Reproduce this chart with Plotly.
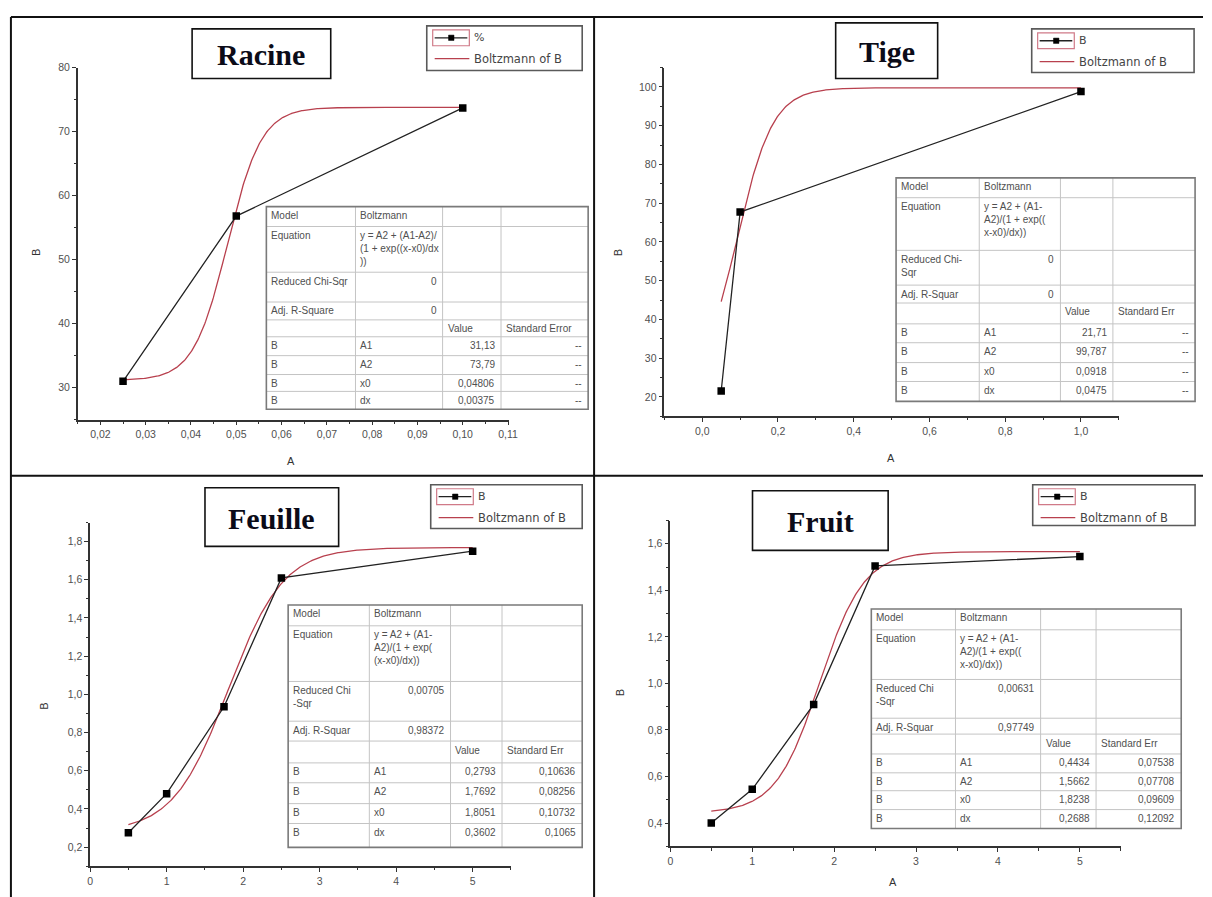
import numpy as np
import plotly.graph_objects as go

W, H = 1212, 897

# ---------------- data ----------------
panel_titles = ["Racine", "Tige", "Feuille", "Fruit"]
series_names = ["%", "B", "B", "B"]
fit_name = "Boltzmann of B"

racine_a = [0.025, 0.05, 0.10]
racine_b = [31.0, 56.8, 73.7]
tige_a = [0.05, 0.1, 1.0]
tige_b = [21.5, 67.7, 98.8]
feuille_a = [0.5, 1.0, 1.75, 2.5, 5.0]
feuille_b = [0.275, 0.48, 0.935, 1.61, 1.75]
fruit_a = [0.5, 1.0, 1.75, 2.5, 5.0]
fruit_b = [0.40, 0.545, 0.91, 1.505, 1.545]

# Boltzmann parameters [A1, A2, x0, dx]
racine_fit = [31.13, 73.79, 0.04806, 0.00375]
tige_fit = [21.71, 99.787, 0.0918, 0.0475]
feuille_fit = [0.2793, 1.7692, 1.8051, 0.3602]
fruit_fit = [0.4434, 1.5662, 1.8238, 0.2688]

# standard errors (None = not available)
racine_err = [None, None, None, None]
tige_err = [None, None, None, None]
feuille_err = [0.10636, 0.08256, 0.10732, 0.1065]
fruit_err = [0.07538, 0.07708, 0.09609, 0.12092]

# [reduced chi-sqr, adj. R-square]
racine_stats = [0, 0]
tige_stats = [0, 0]
feuille_stats = [0.00705, 0.98372]
fruit_stats = [0.00631, 0.97749]

param_names = ["A1", "A2", "x0", "dx"]

racine_labels = ["Model", "Equation", "Reduced Chi-Sqr", "Adj. R-Square", "Standard Error",
                 "y = A2 + (A1-A2)/<br>(1 + exp((x-x0)/dx<br>))"]
tige_labels = ["Model", "Equation", "Reduced Chi-<br>Sqr", "Adj. R-Squar", "Standard Err",
               "y = A2 + (A1-<br>A2)/(1 + exp((<br>x-x0)/dx))"]
feuille_labels = ["Model", "Equation", "Reduced Chi<br>-Sqr", "Adj. R-Squar", "Standard Err",
                  "y = A2 + (A1-<br>A2)/(1 + exp(<br>(x-x0)/dx))"]
fruit_labels = ["Model", "Equation", "Reduced Chi<br>-Sqr", "Adj. R-Squar", "Standard Err",
                "y = A2 + (A1-<br>A2)/(1 + exp((<br>x-x0)/dx))"]

racine_xticks = [0.02, 0.03, 0.04, 0.05, 0.06, 0.07, 0.08, 0.09, 0.10, 0.11]
racine_yticks = [30, 40, 50, 60, 70, 80]
tige_xticks = [0.0, 0.2, 0.4, 0.6, 0.8, 1.0]
tige_yticks = [20, 30, 40, 50, 60, 70, 80, 90, 100]
feuille_xticks = [0, 1, 2, 3, 4, 5]
feuille_yticks = [0.2, 0.4, 0.6, 0.8, 1.0, 1.2, 1.4, 1.6, 1.8]
fruit_xticks = [0, 1, 2, 3, 4, 5]
fruit_yticks = [0.4, 0.6, 0.8, 1.0, 1.2, 1.4, 1.6]

# ---------------- layout geometry (pixels) ----------------
panels = [
    dict(a=racine_a, b=racine_b, fit=racine_fit, err=racine_err, stats=racine_stats,
         labels=racine_labels, xt=racine_xticks, yt=racine_yticks, xf=".2f", yf="d",
         dom=(75.5, 511, 62, 416.5), xr=(0.015, 0.1102), yr=(25, 80),
         xminor=(0.015, 0.005), yminor=(25, 5),
         tbox=(191, 23, 331, 73), lbox=(428, 20, 585, 65),
         cols=[266, 356, 444, 503, 591], rows=[202, 222, 268, 298, 316, 333, 352, 371, 388, 406],
         btitle=(34, 248), atitle=(291, 458)),
    dict(a=tige_a, b=tige_b, fit=tige_fit, err=tige_err, stats=tige_stats,
         labels=tige_labels, xt=tige_xticks, yt=tige_yticks, xf=".1f", yf="d",
         dom=(668, 1127, 62, 413), xr=(-0.1, 1.1), yr=(15, 105),
         xminor=(-0.1, 0.1), yminor=(15, 5),
         tbox=(841, 17, 944, 73), lbox=(1039, 23, 1203, 67),
         cols=[902, 986, 1068, 1121, 1204], rows=[173, 193, 246, 281, 299, 320, 339, 359, 378, 398],
         btitle=(621, 248), atitle=(897, 455)),
    dict(a=feuille_a, b=feuille_b, fit=feuille_fit, err=feuille_err, stats=feuille_stats,
         labels=feuille_labels, xt=feuille_xticks, yt=feuille_yticks, xf="d", yf=".1f",
         dom=(88, 513, 520, 866), xr=(0, 5.5), yr=(0.1, 1.9),
         xminor=(0, 0.5), yminor=(0.1, 0.1),
         tbox=(204, 485, 339, 544), lbox=(432, 482, 585, 526),
         cols=[288, 370, 452, 504, 585], rows=[603, 624, 680, 720, 740, 762, 782, 803, 823, 847],
         btitle=(42, 705), atitle=None),
    dict(a=fruit_a, b=fruit_b, fit=fruit_fit, err=fruit_err, stats=fruit_stats,
         labels=fruit_labels, xt=fruit_xticks, yt=fruit_yticks, xf="d", yf=".1f",
         dom=(674, 1129, 518, 846), xr=(0, 5.5), yr=(0.3, 1.7),
         xminor=(0, 0.5), yminor=(0.3, 0.1),
         tbox=(757, 488, 894, 548), lbox=(1040, 482, 1204, 523),
         cols=[877, 962, 1048, 1104, 1190], rows=[607, 628, 678, 717, 733, 753, 772, 790, 809, 828],
         btitle=(624, 691), atitle=(899, 882)),
]


def fx(x):
    return x / W


def fy(y):
    return 1 - y / H


def num(v):
    return str(v).replace(".", ",")


def boltzmann(x, a1, a2, x0, dx):
    return a2 + (a1 - a2) / (1 + np.exp((x - x0) / dx))


def label(x, y, text, size, color, family, xanchor="center", yanchor="middle", **kw):
    return dict(x=fx(x), y=fy(y), xref="paper", yref="paper", text=text, showarrow=False,
                xanchor=xanchor, yanchor=yanchor, font=dict(family=family, size=size, color=color),
                **kw)


RED = "#b8404e"
INK = "#222222"
SANS = "Liberation Sans"

fig = go.Figure()
shapes = []
annotations = []
layout_axes = {}

for i, p in enumerate(panels):
    n = "" if i == 0 else str(i + 1)
    xa, ya = "x" + n, "y" + n
    x0d, x1d, ytop, ybot = p["dom"]

    a1, a2, c0, dx = p["fit"]
    xs = np.linspace(p["a"][0], p["a"][-1], 400)
    fig.add_trace(go.Scatter(x=xs, y=boltzmann(xs, a1, a2, c0, dx), mode="lines",
                             line=dict(color=RED, width=1.3), xaxis=xa, yaxis=ya,
                             showlegend=False, hoverinfo="skip"))
    fig.add_trace(go.Scatter(x=p["a"], y=p["b"], mode="lines+markers",
                             line=dict(color=INK, width=1.3),
                             marker=dict(symbol="square", size=7.5, color="#000000"),
                             xaxis=xa, yaxis=ya, showlegend=False))

    axis_common = dict(showline=True, linecolor="#333333", linewidth=1.5, ticks="outside",
                       ticklen=4, tickwidth=1, tickcolor="#333333", showgrid=False,
                       zeroline=False, tickfont=dict(family=SANS, size=10.5, color="#505050"),
                       tickmode="array")
    layout_axes["xaxis" + n] = dict(axis_common, domain=[fx(x0d), fx(x1d)], range=list(p["xr"]),
                                     tickvals=p["xt"], tickformat=p["xf"], anchor=ya,
                                     minor=dict(ticks="outside", ticklen=2.5, tickcolor="#333333",
                                                tick0=p["xminor"][0], dtick=p["xminor"][1]))
    layout_axes["yaxis" + n] = dict(axis_common, domain=[fy(ybot), fy(ytop)], range=list(p["yr"]),
                                     tickvals=p["yt"], tickformat=p["yf"], anchor=xa,
                                     minor=dict(ticks="outside", ticklen=2.5, tickcolor="#333333",
                                                tick0=p["yminor"][0], dtick=p["yminor"][1]))

    # axis titles
    bx, by = p["btitle"]
    annotations.append(label(bx, by, "B", 11, "#333333", SANS, textangle=-90))
    if p["atitle"]:
        annotations.append(label(*p["atitle"], "A", 11, "#333333", SANS))

    # title box
    tx0, ty0, tx1, ty1 = p["tbox"]
    shapes.append(dict(type="rect", xref="paper", yref="paper", x0=fx(tx0), x1=fx(tx1),
                       y0=fy(ty1), y1=fy(ty0), line=dict(color="#111111", width=1.6),
                       fillcolor="white", layer="above"))
    annotations.append(label((tx0 + tx1) / 2, (ty0 + ty1) / 2 + 1, "<b>%s</b>" % panel_titles[i],
                             30, "#0b0b18", "Liberation Serif"))

    # legend box
    lx0, ly0, lx1, ly1 = p["lbox"]
    shapes.append(dict(type="rect", xref="paper", yref="paper", x0=fx(lx0), x1=fx(lx1),
                       y0=fy(ly1), y1=fy(ly0), line=dict(color="#5a5a5a", width=1.6),
                       fillcolor="white", layer="above"))
    shapes.append(dict(type="rect", xref="paper", yref="paper", x0=fx(lx0 + 6), x1=fx(lx0 + 43),
                       y0=fy(ly0 + 20), y1=fy(ly0 + 4), line=dict(color="#d07a88", width=1.2),
                       layer="above"))
    shapes.append(dict(type="line", xref="paper", yref="paper", x0=fx(lx0 + 8), x1=fx(lx0 + 41),
                       y0=fy(ly0 + 12), y1=fy(ly0 + 12), line=dict(color=INK, width=1.3),
                       layer="above"))
    shapes.append(dict(type="rect", xref="paper", yref="paper", x0=fx(lx0 + 22), x1=fx(lx0 + 27.5),
                       y0=fy(ly0 + 14.7), y1=fy(ly0 + 9.3), line=dict(color="#000000", width=0.5),
                       fillcolor="#000000", layer="above"))
    shapes.append(dict(type="line", xref="paper", yref="paper", x0=fx(lx0 + 8), x1=fx(lx0 + 43),
                       y0=fy(ly0 + 33), y1=fy(ly0 + 33), line=dict(color=RED, width=1.3),
                       layer="above"))
    annotations.append(label(lx0 + 46, ly0 + 12, series_names[i], 11, "#444444", "DejaVu Sans",
                             xanchor="left"))
    annotations.append(label(lx0 + 46, ly0 + 33, fit_name, 11.5, "#444444", "DejaVu Sans",
                             xanchor="left"))

    # parameter table
    cols, rows = p["cols"], p["rows"]
    lab = p["labels"]
    err = [num(e) if e is not None else "--" for e in p["err"]]
    cells = [
        [lab[0], "Boltzmann", "", ""],
        [lab[1], lab[5], "", ""],
        [lab[2], num(p["stats"][0]), "", ""],
        [lab[3], num(p["stats"][1]), "", ""],
        ["", "", "Value", lab[4]],
    ] + [["B", param_names[k], num(p["fit"][k]), err[k]] for k in range(4)]

    shapes.append(dict(type="rect", xref="paper", yref="paper", x0=fx(cols[0]), x1=fx(cols[-1]),
                       y0=fy(rows[-1]), y1=fy(rows[0]), line=dict(width=0),
                       fillcolor="white", layer="above"))
    for r in rows[1:-1]:
        shapes.append(dict(type="line", xref="paper", yref="paper", x0=fx(cols[0]), x1=fx(cols[-1]),
                           y0=fy(r), y1=fy(r), line=dict(color="#c4c4c4", width=1), layer="above"))
    for c in cols[1:-1]:
        shapes.append(dict(type="line", xref="paper", yref="paper", x0=fx(c), x1=fx(c),
                           y0=fy(rows[-1]), y1=fy(rows[0]), line=dict(color="#c4c4c4", width=1),
                           layer="above"))
    shapes.append(dict(type="rect", xref="paper", yref="paper", x0=fx(cols[0]), x1=fx(cols[-1]),
                       y0=fy(rows[-1]), y1=fy(rows[0]), line=dict(color="#7a7a7a", width=1.6),
                       layer="above"))
    for ri, row in enumerate(cells):
        for ci, txt in enumerate(row):
            if not txt:
                continue
            right = (ri in (2, 3) and ci == 1) or (ri >= 5 and ci >= 2)
            xpos = cols[ci + 1] - 4 if right else cols[ci] + 3
            annotations.append(label(xpos, rows[ri] + 1.5, txt, 10, "#505050", SANS,
                                     xanchor="right" if right else "left", yanchor="top",
                                     align="right" if right else "left"))

# page frame lines between the four panels
frame = [(8, 11, 8, 897), (8, 11, 1212, 11), (597, 11, 597, 897), (8, 473, 1212, 473)]
for x0, y0, x1, y1 in frame:
    shapes.append(dict(type="line", xref="paper", yref="paper", x0=fx(x0), x1=fx(x1),
                       y0=fy(y0), y1=fy(y1), line=dict(color="#111111", width=2), layer="above"))

fig.update_layout(width=W, height=H, autosize=False, margin=dict(l=0, r=0, t=0, b=0),
                  paper_bgcolor="white", plot_bgcolor="white", separators=", ",
                  shapes=shapes, annotations=annotations, showlegend=False, **layout_axes)

fig.write_html("out.html",
               post_script="document.body.style.margin='0';document.body.style.overflow='hidden';")
